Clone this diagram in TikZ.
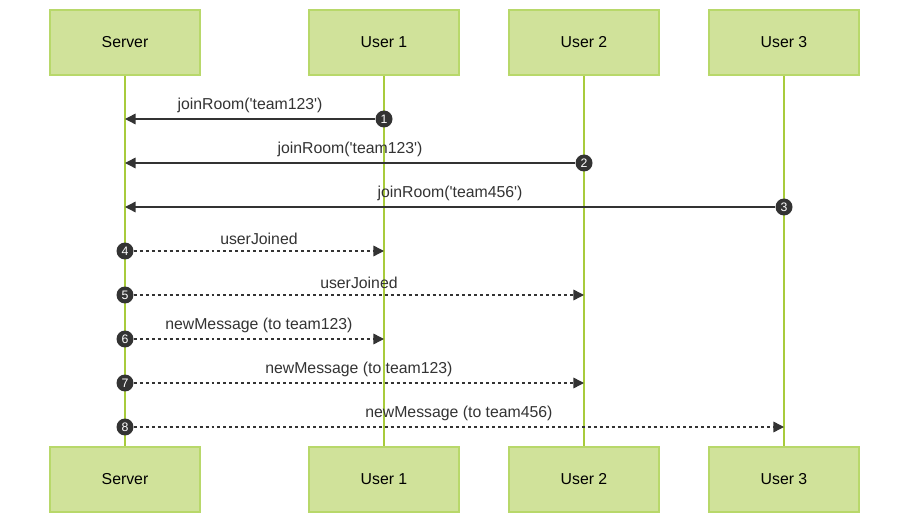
\documentclass[tikz,border=0pt]{standalone}
\usepackage{fontspec}
\setmainfont{Liberation Sans}
\usetikzlibrary{arrows.meta}
\definecolor{boxfill}{HTML}{D0E29A}
\definecolor{boxline}{HTML}{B8D86A}
\definecolor{lifeline}{HTML}{A8CB3C}
\definecolor{msg}{HTML}{333333}
\tikzset{
  actor/.style={draw=boxline, fill=boxfill, line width=0.8pt, minimum width=3cm, minimum height=1.3cm, font=\fontsize{9}{11}\selectfont},
  life/.style={draw=lifeline, line width=1pt},
  call/.style={draw=msg, line width=0.8pt, -{Triangle[length=6pt,width=6pt]}},
  reply/.style={call, dash pattern=on 1.7pt off 1.7pt},
  badge/.style={circle, fill=msg, text=white, inner sep=0pt, minimum size=0.34cm, font=\fontsize{7}{7}\selectfont},
  lbl/.style={text=msg, font=\fontsize{9}{11}\selectfont}
}
\newcommand{\sq}{\textquotesingle}
\begin{document}
\begin{tikzpicture}[x=0.02cm, y=-0.02cm]
\useasboundingbox (0,0) rectangle (909,523);

%Actors
\foreach \name/\x/\txt in {srv/125/Server, ua/384/User 1, ub/584/User 2, uc/784/User 3}
{
\coordinate (\name-top) at (\x,75);
\coordinate (\name-bot) at (\x,447);
\draw [life] (\name-top) -- (\name-bot);
\node [actor] (\name-t) at (\x,42.5) {\txt};
\node [actor] (\name-b) at (\x,479.5) {\txt};
}

%Requests
\foreach \n/\who/\x/\y/\txt in {1/ua/384/119/joinRoom(\sq team123\sq), 2/ub/584/163/joinRoom(\sq team123\sq), 3/uc/784/207/joinRoom(\sq team456\sq)}
{
\coordinate (s\n) at (125,\y);
\node [badge] (b\n) at (\x,\y) {\n};
\draw [call] (b\n) -- (s\n) node [lbl, midway, above=0pt] {\txt};
}

%Broadcasts
\foreach \n/\x/\y/\txt in {4/384/251/userJoined, 5/584/295/userJoined, 6/384/339/newMessage (to team123), 7/584/383/newMessage (to team123), 8/784/427/newMessage (to team456)}
{
\coordinate (t\n) at (\x,\y);
\node [badge] (b\n) at (125,\y) {\n};
\draw [reply] (b\n) -- (t\n) node [lbl, midway, above=0pt] {\txt};
}

\end{tikzpicture}
\end{document}
